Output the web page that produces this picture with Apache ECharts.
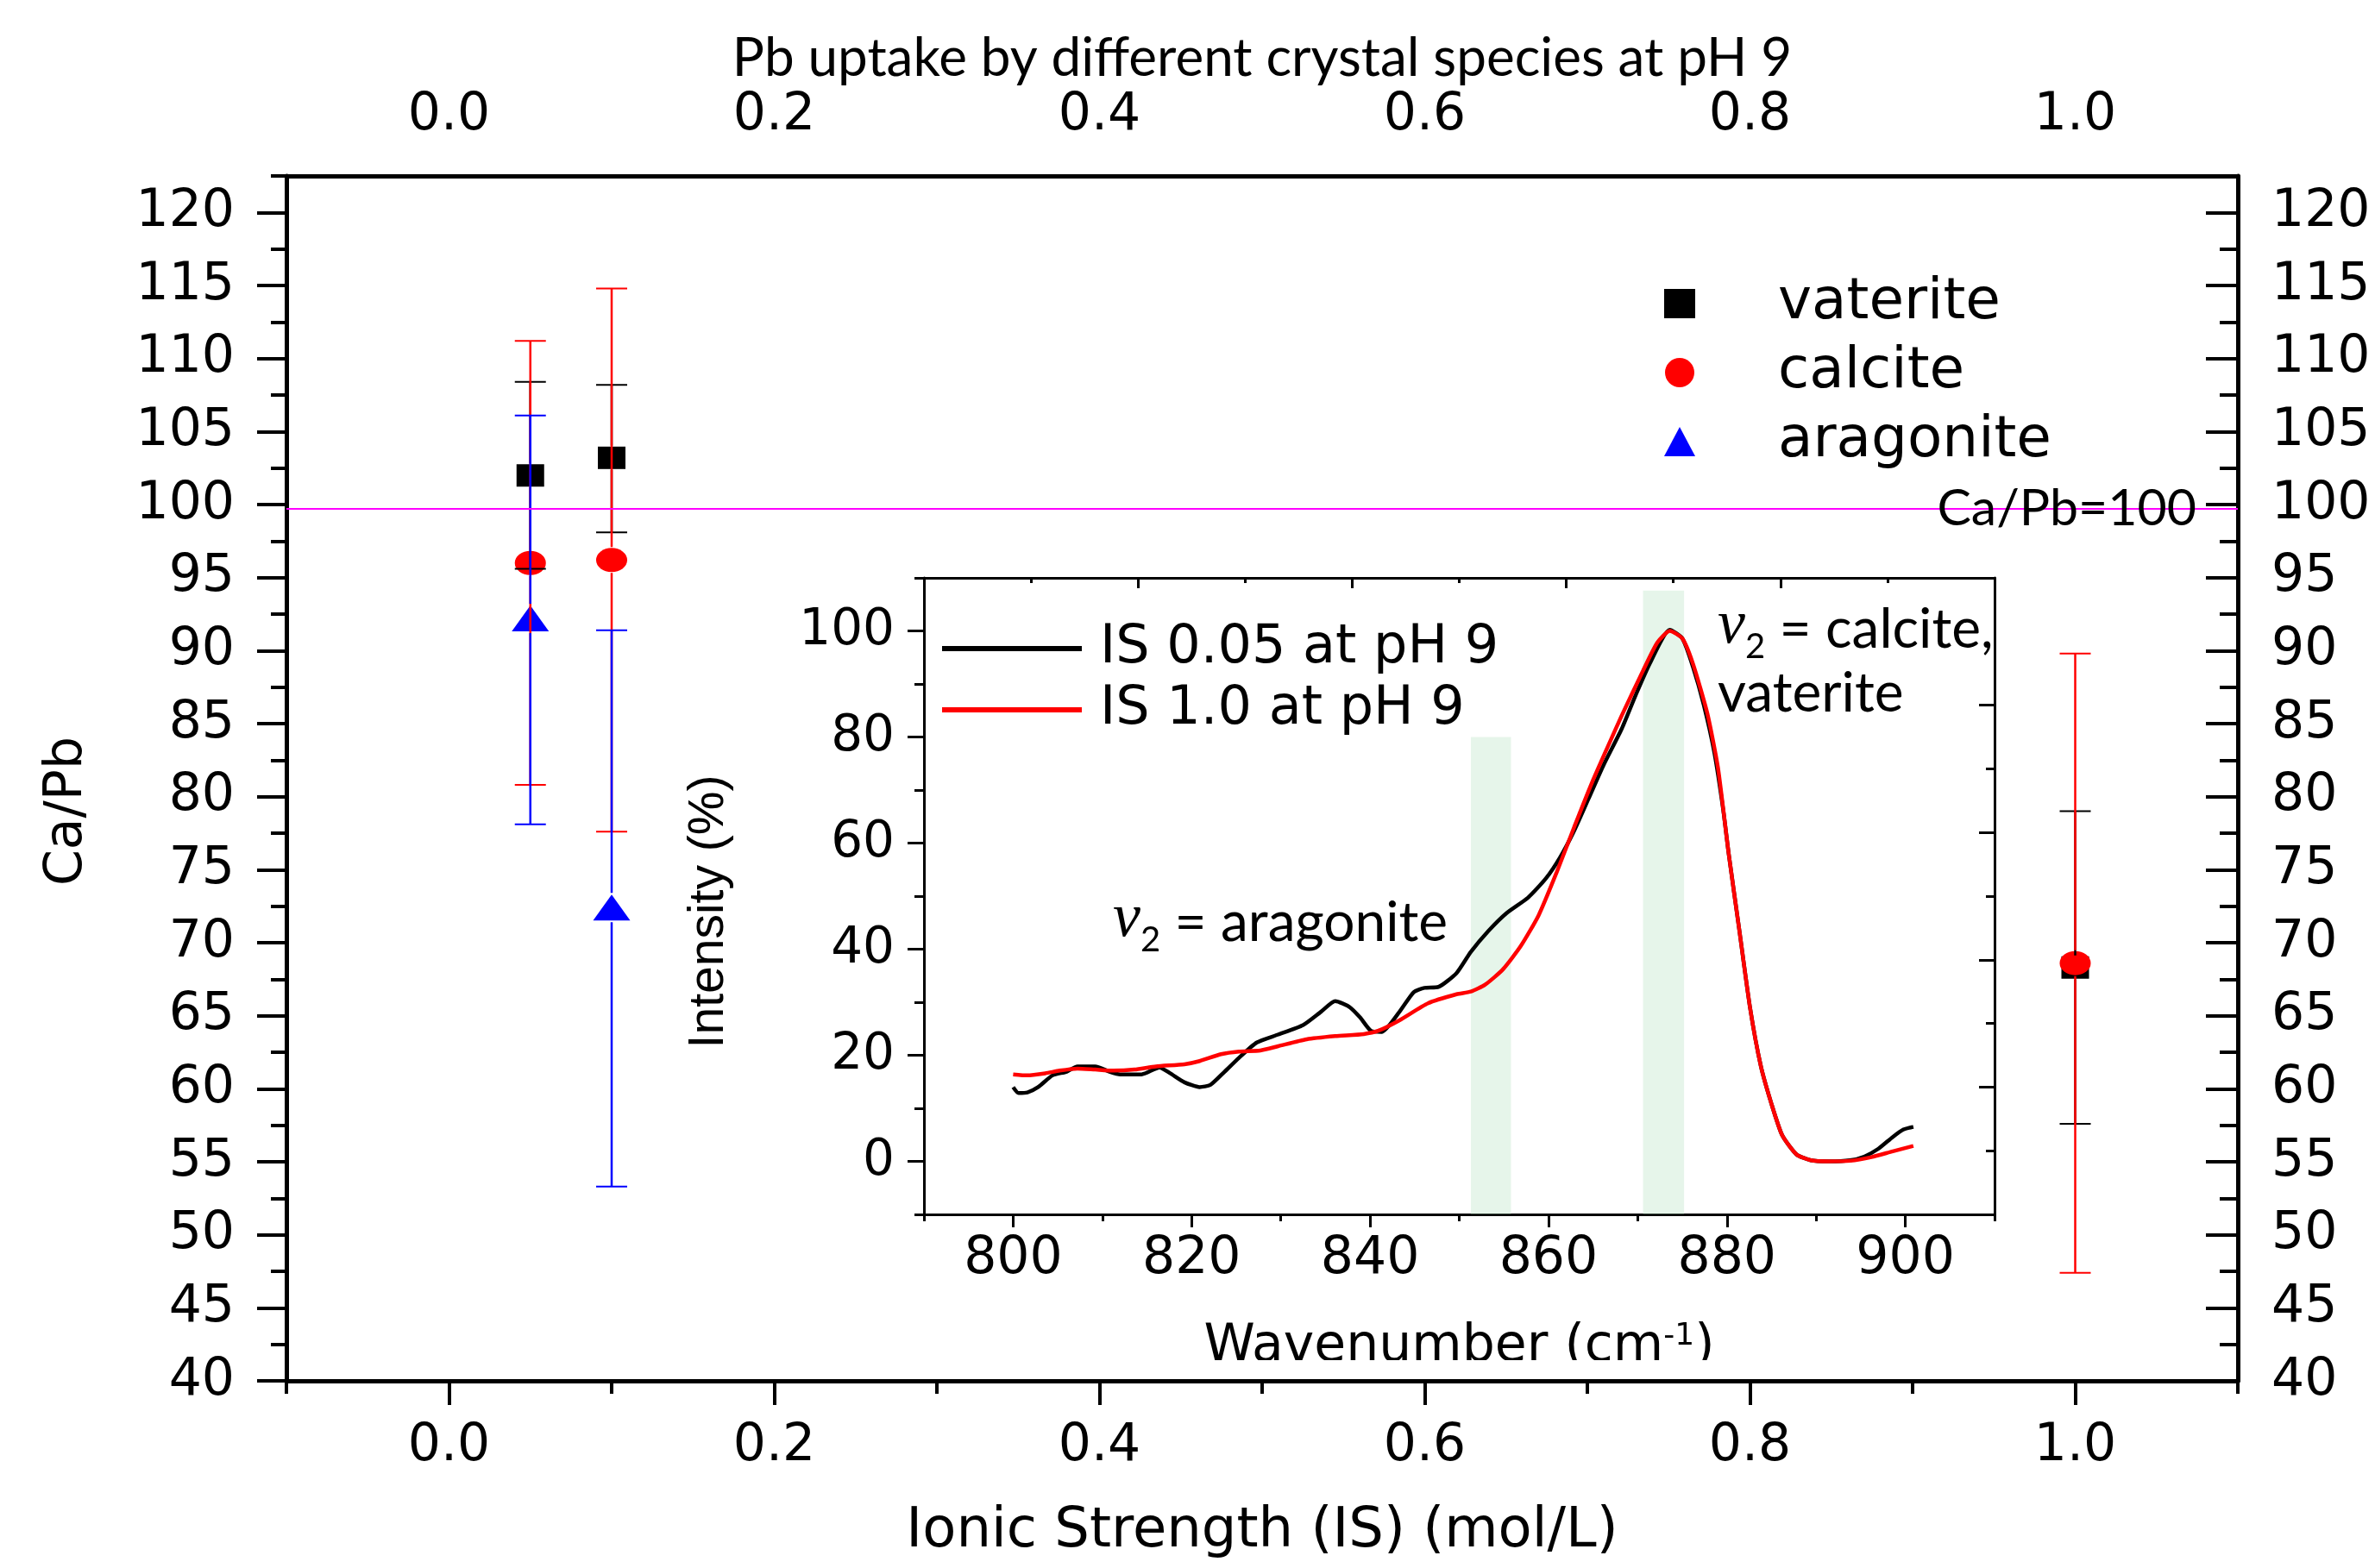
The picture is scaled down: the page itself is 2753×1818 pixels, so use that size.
<!DOCTYPE html>
<html>
<head>
<meta charset="utf-8">
<title>Pb uptake by different crystal species at pH 9</title>
<script src="https://cdn.jsdelivr.net/npm/echarts@6/dist/echarts.min.js"></script>
<style>
    html, body {margin: 0; padding: 0; background: #fff;}
    #main {width: 2753px; height: 1818px;}
</style>
</head>
<body>
<div id="main"></div>
<script>
// ---- main plot: Ca/Pb vs ionic strength ----
var isVaterite = [0.05, 0.1, 1.0];
var caPbVaterite = [102.0, 103.2, 68.3];
var lowVaterite = [95.6, 98.1, 57.6];
var highVaterite = [108.4, 108.2, 79.0];

var isCalcite = [0.05, 0.1, 1.0];
var caPbCalcite = [96.0, 96.2, 68.6];
var lowCalcite = [80.8, 77.6, 47.4];
var highCalcite = [111.2, 114.8, 89.8];

var isAragonite = [0.05, 0.1];
var caPbAragonite = [92.2, 72.4];
var lowAragonite = [78.1, 53.3];
var highAragonite = [106.1, 91.4];

var refLine = 99.7; // drawn "Ca/Pb=100" line

var mainXTicks = [0, 0.2, 0.4, 0.6, 0.8, 1.0];
var mainXMinor = [-0.1, 0.1, 0.3, 0.5, 0.7, 0.9, 1.1];
var mainYTicks = [40, 45, 50, 55, 60, 65, 70, 75, 80, 85, 90, 95, 100, 105, 110, 115, 120];
var mainYMinor = [42.5, 47.5, 52.5, 57.5, 62.5, 67.5, 72.5, 77.5, 82.5, 87.5, 92.5, 97.5, 102.5, 107.5, 112.5, 117.5, 122.5];

// ---- inset: Raman spectra ----
var wnIS005 = [800, 800.6, 801.6, 802.8, 804.4, 806, 807.2, 809.2, 810.8, 812, 814.4, 816.4, 817.6, 819.2, 820.9,
    822.1, 823.7, 825.3, 827.3, 829.7, 832.5, 834.5, 836.1, 837.7, 838.9, 840.1, 841.3, 843.3, 844.9, 846.1,
    847.7, 849.7, 851.3, 853.3, 855.3, 857.7, 859.7, 861.3, 862.9, 864.5, 866.2, 868.2, 869.8, 871.4, 873.6,
    875, 876.2, 877.4, 878.6, 879.6, 880.2, 881.4, 882.6, 883.8, 885, 886.2, 887.8, 889.4, 891.4, 893.8,
    895.4, 897, 898.6, 899.8, 900.9];
var intIS005 = [14.0, 12.9, 13.0, 14.0, 16.2, 16.9, 17.9, 17.9, 16.9, 16.4, 16.4, 17.7, 16.6, 14.9, 14.0,
    14.4, 16.9, 19.5, 22.4, 23.9, 25.7, 28.2, 30.2, 29.1, 27.1, 24.6, 24.4, 28.2, 31.9, 32.7,
    32.9, 35.5, 39.5, 43.5, 46.8, 49.7, 53.3, 57.3, 62.4, 68.4, 74.8, 81.5, 88.0, 94.0, 100.2,
    98.6, 93.2, 86.1, 77.0, 66.1, 58.0, 43.5, 28.9, 18.0, 10.8, 4.9, 1.3, 0.2, 0.0, 0.2,
    0.9, 2.4, 4.6, 6.0, 6.5];

var wnIS10 = [800, 801.6, 803.6, 805.2, 807.2, 809.2, 811.2, 813.6, 816, 819.2, 820.9, 823.3, 825.3, 827.7, 829.7,
    832.9, 836.1, 839.3, 840.9, 843.3, 846.5, 849.7, 851.3, 852.9, 854.9, 856.9, 858.9, 860.9, 862.9, 864.9,
    866.6, 868.2, 870.6, 872.2, 873.6, 875, 876.2, 877.8, 879, 880.2, 881.4, 882.6, 883.8, 885, 886.2,
    887.8, 889.4, 891.4, 893.8, 896.2, 898.6, 900.9];
var intIS10 = [16.4, 16.2, 16.6, 17.1, 17.5, 17.3, 17.1, 17.3, 17.9, 18.3, 18.9, 20.2, 20.7, 20.9, 21.7,
    23.0, 23.6, 24.0, 24.6, 26.6, 29.8, 31.5, 32.0, 33.3, 36.2, 40.6, 46.4, 54.4, 63.1, 71.5,
    78.0, 84.0, 92.5, 97.8, 100.0, 98.6, 93.8, 84.5, 74.2, 58.0, 43.5, 28.9, 18.0, 10.8, 4.9,
    1.3, 0.2, 0.0, 0.1, 0.8, 1.9, 2.9];

// shaded bands (wavenumber range and height)
var bandStart = [851.3, 870.6];
var bandEnd = [855.8, 875.2];
var bandTop = [80, 107.6];

var insetXTicks = [800, 820, 840, 860, 880, 900];
var insetXMinor = [790, 810, 830, 850, 870, 890, 910];
var insetYTicks = [0, 20, 40, 60, 80, 100];
var insetYMinor = [-10, 10, 30, 50, 70, 90, 110];
var insetTopMajor = [2, 4, 6, 8];
var insetTopMinor = [1, 3, 5, 7, 9];
var insetRightMajor = [2, 4, 6, 8];
var insetRightMinor = [1, 3, 5, 7];

var SANS = 'DejaVu Sans';
var HUMAN = 'Lato';

function zip(xs, ys) {
    return xs.map(function (x, i) { return [x, ys[i]]; });
}
function errData(xs, ys, lo, hi) {
    return xs.map(function (x, i) { return [x, lo[i], hi[i], ys[i]]; });
}

// vertical error bar with caps, leaving a gap around the symbol
function errorBar(color, gap) {
    return function (params, api) {
        var x = api.value(0);
        var pLo = api.coord([x, api.value(1)]);
        var pHi = api.coord([x, api.value(2)]);
        var pMid = api.coord([x, api.value(3)]);
        var cap = 18;
        var st = {stroke: color, lineWidth: 2.5};
        return {
            type: 'group',
            children: [
                {type: 'line', shape: {x1: pHi[0], y1: pHi[1], x2: pMid[0], y2: pMid[1] - gap}, style: st},
                {type: 'line', shape: {x1: pMid[0], y1: pMid[1] + gap, x2: pLo[0], y2: pLo[1]}, style: st},
                {type: 'line', shape: {x1: pHi[0] - cap, y1: pHi[1], x2: pHi[0] + cap, y2: pHi[1]}, style: {stroke: color, lineWidth: 2}},
                {type: 'line', shape: {x1: pLo[0] - cap, y1: pLo[1], x2: pLo[0] + cap, y2: pLo[1]}, style: {stroke: color, lineWidth: 2}}
            ]
        };
    };
}

function valAxis(extra) {
    var base = {
        type: 'value',
        splitLine: {show: false},
        axisLine: {show: false, onZero: false},
        axisLabel: {show: false},
        axisTick: {show: true}
    };
    return Object.assign(base, extra);
}

var chart = echarts.init(document.getElementById('main'));

var option = {
    backgroundColor: '#fff',
    animation: false,
    textStyle: {fontFamily: SANS, color: '#000'},
    grid: [
        {left: 332, top: 204, width: 2262, height: 1397},
        {left: 1071, top: 670, width: 1241, height: 738}
    ],
    xAxis: [
        // main bottom
        valAxis({
            gridIndex: 0, position: 'bottom', min: -0.1, max: 1.1,
            axisLine: {show: true, onZero: false, lineStyle: {color: '#000', width: 5}},
            axisTick: {show: true, length: 28, customValues: mainXTicks, lineStyle: {color: '#000', width: 4}},
            axisLabel: {show: true, customValues: mainXTicks, margin: 46, fontSize: 60, color: '#000',
                formatter: function (v) { return v.toFixed(1); }},
            name: 'Ionic Strength (IS) (mol/L)', nameLocation: 'middle', nameGap: 143,
            nameTextStyle: {fontSize: 64, color: '#000'}
        }),
        valAxis({
            gridIndex: 0, position: 'bottom', min: -0.1, max: 1.1,
            axisTick: {show: true, length: 15, customValues: mainXMinor, lineStyle: {color: '#000', width: 4}}
        }),
        // main top
        valAxis({
            gridIndex: 0, position: 'top', min: -0.1, max: 1.1,
            axisLine: {show: true, onZero: false, lineStyle: {color: '#000', width: 5}},
            axisTick: {show: false},
            axisLabel: {show: true, customValues: mainXTicks, margin: 40, fontSize: 60, color: '#000',
                formatter: function (v) { return v.toFixed(1); }},
            name: 'Pb uptake by different crystal species at pH 9', nameLocation: 'middle', nameGap: 103,
            nameTextStyle: {fontFamily: HUMAN, fontSize: 62, color: '#000'}
        }),
        // inset bottom
        valAxis({
            gridIndex: 1, position: 'bottom', min: 790, max: 910,
            axisLine: {show: true, onZero: false, lineStyle: {color: '#000', width: 3}},
            axisTick: {show: true, length: 15, customValues: insetXTicks, lineStyle: {color: '#000', width: 3}},
            axisLabel: {show: true, customValues: insetXTicks, margin: 22, fontSize: 60, color: '#000'},
            name: 'Wavenumber (cm{sup|-1})', nameLocation: 'middle', nameGap: 124,
            nameTextStyle: {fontSize: 60, color: '#000', rich: {sup: {fontSize: 36, verticalAlign: 'top', color: '#000'}}}
        }),
        valAxis({
            gridIndex: 1, position: 'bottom', min: 790, max: 910,
            axisTick: {show: true, length: 8, customValues: insetXMinor, lineStyle: {color: '#000', width: 3}}
        }),
        // inset top (ticks only)
        valAxis({
            gridIndex: 1, position: 'top', min: 0, max: 10,
            axisLine: {show: true, onZero: false, lineStyle: {color: '#000', width: 3}},
            axisTick: {show: true, inside: true, length: 12, customValues: insetTopMajor, lineStyle: {color: '#000', width: 3}}
        }),
        valAxis({
            gridIndex: 1, position: 'top', min: 0, max: 10,
            axisTick: {show: true, inside: true, length: 6, customValues: insetTopMinor, lineStyle: {color: '#000', width: 3}}
        })
    ],
    yAxis: [
        // main left
        valAxis({
            gridIndex: 0, position: 'left', min: 40, max: 122.5,
            axisLine: {show: true, onZero: false, lineStyle: {color: '#000', width: 5}},
            axisTick: {show: true, length: 34, customValues: mainYTicks, lineStyle: {color: '#000', width: 4}},
            axisLabel: {show: true, customValues: mainYTicks, margin: 60, fontSize: 60, color: '#000'},
            name: 'Ca/Pb', nameLocation: 'middle', nameGap: 224,
            nameTextStyle: {fontSize: 60, color: '#000', padding: [0, 76, 0, 0]}
        }),
        valAxis({
            gridIndex: 0, position: 'left', min: 40, max: 122.5,
            axisTick: {show: true, length: 18, customValues: mainYMinor, lineStyle: {color: '#000', width: 4}}
        }),
        // main right
        valAxis({
            gridIndex: 0, position: 'right', min: 40, max: 122.5,
            axisLine: {show: true, onZero: false, lineStyle: {color: '#000', width: 5}},
            axisTick: {show: true, inside: true, length: 37, customValues: mainYTicks, lineStyle: {color: '#000', width: 4}},
            axisLabel: {show: true, customValues: mainYTicks, margin: 39, fontSize: 60, color: '#000'}
        }),
        valAxis({
            gridIndex: 0, position: 'right', min: 40, max: 122.5,
            axisTick: {show: true, inside: true, length: 21, customValues: mainYMinor, lineStyle: {color: '#000', width: 4}}
        }),
        // inset left
        valAxis({
            gridIndex: 1, position: 'left', min: -10, max: 110,
            axisLine: {show: true, onZero: false, lineStyle: {color: '#000', width: 3}},
            axisTick: {show: true, length: 19, customValues: insetYTicks, lineStyle: {color: '#000', width: 3}},
            axisLabel: {show: true, customValues: insetYTicks, margin: 34, fontSize: 58, color: '#000'},
            name: 'Intensity (%)', nameLocation: 'middle', nameGap: 220,
            nameTextStyle: {fontFamily: 'Liberation Sans', fontSize: 57, color: '#000', padding: [0, 36, 0, 0]}
        }),
        valAxis({
            gridIndex: 1, position: 'left', min: -10, max: 110,
            axisTick: {show: true, length: 11, customValues: insetYMinor, lineStyle: {color: '#000', width: 3}}
        }),
        // inset right (ticks only)
        valAxis({
            gridIndex: 1, position: 'right', min: 0, max: 10,
            axisLine: {show: true, onZero: false, lineStyle: {color: '#000', width: 3}},
            axisTick: {show: true, inside: true, length: 18, customValues: insetRightMajor, lineStyle: {color: '#000', width: 3}}
        }),
        valAxis({
            gridIndex: 1, position: 'right', min: 0, max: 10,
            axisTick: {show: true, inside: true, length: 10, customValues: insetRightMinor, lineStyle: {color: '#000', width: 3}}
        })
    ],
    legend: [
        {
            orient: 'vertical', left: 1924, top: 314,
            itemWidth: 36, itemHeight: 34, itemGap: 14,
            textStyle: {fontSize: 66, color: '#000', fontFamily: SANS, padding: [0, 0, 0, 91]},
            data: [
                {name: 'vaterite', icon: 'rect'},
                {name: 'calcite', icon: 'circle'},
                {name: 'aragonite', icon: 'triangle'}
            ]
        },
        {
            orient: 'vertical', left: 1087, top: 716,
            itemWidth: 162, itemHeight: 6, itemGap: 9,
            textStyle: {fontSize: 62, color: '#000', fontFamily: SANS, padding: [0, 0, 0, 16]},
            data: [
                {name: 'IS 0.05 at pH 9', icon: 'rect'},
                {name: 'IS 1.0 at pH 9', icon: 'rect'}
            ]
        }
    ],
    series: [
        {
            name: 'vaterite', type: 'scatter', xAxisIndex: 0, yAxisIndex: 0, z: 2,
            symbol: 'rect', symbolSize: [32, 26], itemStyle: {color: '#000', opacity: 1},
            data: zip(isVaterite, caPbVaterite),
            markLine: {
                silent: true, symbol: ['none', 'none'],
                lineStyle: {color: '#ff00ff', width: 2, type: 'solid'},
                label: {show: true, position: 'insideEnd', distance: [48, 0], formatter: 'Ca/Pb=100',
                    fontFamily: HUMAN, fontSize: 59, color: '#000', padding: [16, 0, 0, 0]},
                data: [{yAxis: refLine}]
            }
        },
        {
            name: 'calcite', type: 'scatter', xAxisIndex: 0, yAxisIndex: 0, z: 2,
            symbol: 'circle', symbolSize: [36, 28], itemStyle: {color: '#ff0000', opacity: 1},
            data: zip(isCalcite, caPbCalcite)
        },
        {
            name: 'aragonite', type: 'scatter', xAxisIndex: 0, yAxisIndex: 0, z: 2,
            symbol: 'triangle', symbolSize: [43, 30], itemStyle: {color: '#0000ff', opacity: 1},
            data: zip(isAragonite, caPbAragonite)
        },
        {
            name: 'vaterite error', type: 'custom', xAxisIndex: 0, yAxisIndex: 0, z: 3,
            renderItem: errorBar('#000', 14), data: errData(isVaterite, caPbVaterite, lowVaterite, highVaterite)
        },
        {
            name: 'calcite error', type: 'custom', xAxisIndex: 0, yAxisIndex: 0, z: 3,
            renderItem: errorBar('#ff0000', 15), data: errData(isCalcite, caPbCalcite, lowCalcite, highCalcite)
        },
        {
            name: 'aragonite error', type: 'custom', xAxisIndex: 0, yAxisIndex: 0, z: 3,
            renderItem: errorBar('#0000ff', 17), data: errData(isAragonite, caPbAragonite, lowAragonite, highAragonite)
        },
        {
            name: 'IS 0.05 at pH 9', type: 'line', xAxisIndex: 3, yAxisIndex: 4, z: 4,
            showSymbol: false, symbol: 'none', smooth: 0.2, color: '#000',
            lineStyle: {color: '#000', width: 4.5},
            data: zip(wnIS005, intIS005)
        },
        {
            name: 'IS 1.0 at pH 9', type: 'line', xAxisIndex: 3, yAxisIndex: 4, z: 4,
            showSymbol: false, symbol: 'none', smooth: 0.2, color: '#ff0000',
            lineStyle: {color: '#ff0000', width: 4.5},
            data: zip(wnIS10, intIS10)
        },
        {
            name: 'bands', type: 'line', xAxisIndex: 3, yAxisIndex: 4, z: 6,
            data: [],
            markArea: {
                silent: true,
                itemStyle: {color: 'rgba(172,222,185,0.3)'},
                data: bandStart.map(function (s, i) {
                    return [{xAxis: s, yAxis: -10}, {xAxis: bandEnd[i], yAxis: bandTop[i]}];
                })
            }
        }
    ],
    graphic: [
        // the inset picture clips the bottom of its axis title
        {type: 'rect', z: 100, shape: {x: 1350, y: 1577, width: 700, height: 18}, style: {fill: '#fff'}},
        {
            type: 'text', left: 1290, top: 1030, z: 50,
            style: {
                text: '{nu|ν}{sub|2}{t| = aragonite}',
                rich: {
                    nu: {fontFamily: 'Liberation Serif', fontStyle: 'italic', fontSize: 72, verticalAlign: 'bottom', padding: [0, 0, 8, 0], fill: '#000'},
                    sub: {fontFamily: HUMAN, fontSize: 40, verticalAlign: 'bottom', fill: '#000'},
                    t: {fontFamily: HUMAN, fontSize: 64, verticalAlign: 'bottom', padding: [0, 0, 8, 0], fill: '#000'}
                }
            }
        },
        {
            type: 'text', left: 1991, top: 690, z: 50,
            style: {
                text: '{nu|ν}{sub|2}{t| = calcite,}',
                rich: {
                    nu: {fontFamily: 'Liberation Serif', fontStyle: 'italic', fontSize: 72, verticalAlign: 'bottom', padding: [0, 0, 8, 0], fill: '#000'},
                    sub: {fontFamily: HUMAN, fontSize: 40, verticalAlign: 'bottom', fill: '#000'},
                    t: {fontFamily: HUMAN, fontSize: 64, verticalAlign: 'bottom', padding: [0, 0, 8, 0], fill: '#000'}
                }
            }
        },
        {
            type: 'text', left: 1991, top: 772, z: 50,
            style: {text: 'vaterite', fontFamily: HUMAN, fontSize: 64, fill: '#000'}
        }
    ]
};

chart.setOption(option);
</script>
</body>
</html>
